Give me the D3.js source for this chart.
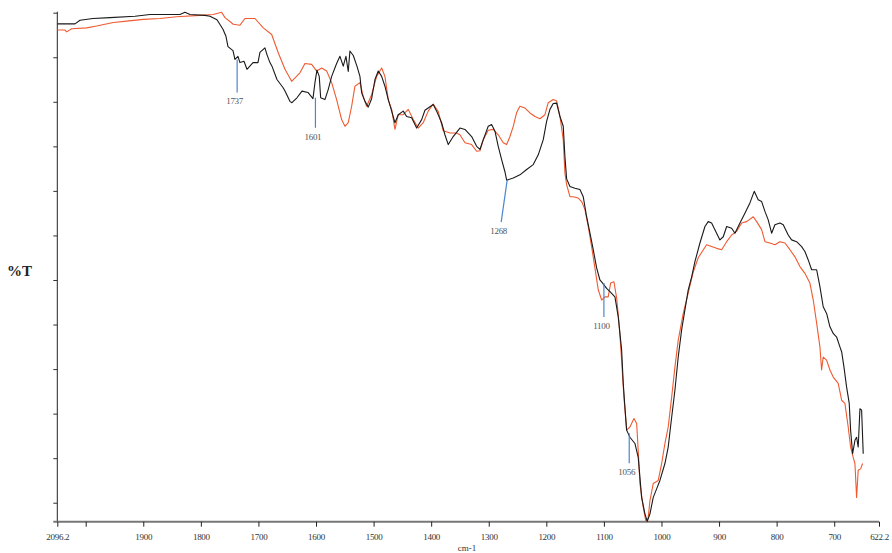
<!DOCTYPE html>
<html>
<head>
<meta charset="utf-8">
<script src="https://cdn.jsdelivr.net/npm/d3@7"></script>
<style>
  body { margin: 0; background: #fff; }
  svg { display: block; }
  text { font-family: "Liberation Serif", "Times New Roman", serif; }
</style>
</head>
<body>
<svg id="chart" width="892" height="553"></svg>
<script>
// spectrum data: [wavenumber cm-1, %T]
const blackSpectrum = [
  [2096.2,117.5],[2036.3,117.5],[2019.3,118.3],[1987.4,118.7],[1957.9,118.9],[1914.4,119.2],[1888.4,119.6],
  [1836.3,119.6],[1827.6,120.1],[1818.9,119.6],[1792.9,119.4],[1784.2,119.2],[1772.0,118.4],[1761.6,116.3],
  [1756.4,114.7],[1752.9,112.4],[1744.2,111.5],[1740.8,109.5],[1735.6,110.2],[1732.1,108.8],[1725.1,109.1],
  [1719.9,107.3],[1709.5,108.8],[1700.8,108.8],[1697.4,111.1],[1688.7,112.1],[1685.2,110.6],[1680.0,108.8],
  [1676.5,108.0],[1667.8,105.0],[1657.4,103.2],[1653.9,102.4],[1645.3,100.1],[1641.8,99.8],[1633.1,100.9],
  [1624.4,102.4],[1614.0,102.1],[1605.3,100.7],[1601.8,104.3],[1598.4,107.1],[1594.4,105.7],[1591.9,100.9],
  [1584.5,100.5],[1578.7,102.8],[1572.8,105.7],[1564.2,108.6],[1558.4,110.2],[1552.7,108.0],[1548.0,110.2],
  [1544.0,106.8],[1541.1,111.4],[1535.3,110.4],[1528.9,108.0],[1523.7,105.7],[1520.7,102.0],[1515.0,100.1],
  [1509.3,98.8],[1503.4,100.7],[1497.6,105.0],[1491.9,106.9],[1486.0,105.7],[1480.3,103.5],[1474.5,100.5],
  [1468.6,97.9],[1462.9,95.3],[1457.2,97.1],[1448.5,97.9],[1442.6,96.7],[1433.9,96.4],[1425.2,94.1],
  [1416.5,96.0],[1410.8,98.1],[1402.1,98.9],[1396.4,99.4],[1390.5,97.9],[1381.8,95.3],[1376.1,92.6],
  [1370.3,90.4],[1361.7,92.2],[1350.0,94.1],[1341.3,93.8],[1329.7,92.2],[1321.0,90.0],[1315.3,89.3],
  [1309.5,91.5],[1300.9,94.5],[1295.0,94.9],[1289.2,93.4],[1283.5,90.0],[1277.6,87.0],[1271.9,84.3],
  [1268.9,82.4],[1257.4,82.9],[1245.8,83.6],[1234.2,84.8],[1222.7,85.9],[1214.0,88.1],[1205.3,91.5],
  [1199.5,95.6],[1193.7,98.3],[1188.0,99.6],[1182.1,99.7],[1176.3,96.7],[1170.6,94.5],[1167.7,87.7],
  [1164.7,82.7],[1159.0,81.0],[1150.3,80.6],[1141.6,80.3],[1135.9,78.7],[1130.0,74.2],[1124.2,70.5],
  [1118.5,66.8],[1112.6,62.7],[1106.9,60.0],[1102.2,59.3],[1095.3,58.1],[1089.5,57.4],[1080.8,56.2],
  [1075.1,51.7],[1069.2,44.3],[1066.4,36.8],[1063.5,31.5],[1060.5,26.3],[1054.8,24.7],[1046.1,23.3],
  [1040.4,20.2],[1037.4,15.7],[1034.5,11.2],[1028.7,7.5],[1024.7,5.8],[1020.0,7.5],[1014.3,11.2],
  [1008.4,13.1],[1002.7,15.0],[994.0,18.8],[988.3,22.5],[982.3,29.2],[976.6,35.3],[970.9,42.7],
  [965.0,48.8],[959.3,53.3],[953.5,57.8],[947.6,60.7],[941.9,64.1],[933.2,68.3],[924.5,72.0],
  [918.8,73.1],[912.9,72.8],[907.2,71.3],[898.5,69.0],[892.7,69.7],[886.8,72.0],[878.1,71.6],
  [872.4,70.5],[863.7,72.8],[855.1,75.0],[846.4,77.3],[838.9,79.9],[832.0,78.0],[826.0,77.6],
  [820.3,75.4],[814.6,73.5],[808.7,70.5],[803.0,72.4],[794.3,72.8],[788.5,72.4],[779.9,70.1],
  [774.0,69.0],[765.3,68.6],[756.6,67.5],[750.9,66.4],[745.1,64.5],[739.2,62.3],[730.5,62.3],
  [724.8,58.5],[719.1,54.0],[713.2,52.5],[707.4,49.5],[701.7,48.0],[695.8,47.2],[690.1,45.0],
  [687.1,43.9],[683.1,40.5],[678.5,36.0],[673.9,32.3],[671.5,26.3],[668.0,21.0],[664.0,24.0],
  [661.1,24.7],[658.3,22.5],[655.3,31.1],[652.4,30.8],[649.6,21.0]
];

const orangeSpectrum = [
  [2096.2,116.1],[2070.1,116.1],[2064.4,115.7],[2047.5,116.4],[1998.3,116.6],[1981.0,117.0],[1952.1,117.8],
  [1928.9,118.1],[1900.0,118.5],[1871.0,118.7],[1842.0,119.1],[1801.6,119.4],[1778.5,119.6],[1763.9,120.1],
  [1758.1,118.9],[1743.7,117.4],[1732.1,117.2],[1723.4,118.7],[1706.0,118.7],[1691.6,116.6],[1677.0,115.1],
  [1665.6,111.0],[1653.9,107.3],[1642.3,104.6],[1627.9,106.5],[1619.2,108.6],[1607.6,108.4],[1598.9,106.9],
  [1590.2,107.6],[1581.5,106.9],[1572.8,104.3],[1564.2,100.5],[1555.5,96.0],[1549.7,94.5],[1544.0,95.3],
  [1538.1,99.0],[1532.4,103.5],[1523.7,104.3],[1518.0,101.2],[1512.1,99.0],[1503.4,101.6],[1494.7,105.7],
  [1486.0,107.6],[1480.3,105.7],[1474.5,100.5],[1468.6,98.3],[1462.9,93.8],[1457.2,97.1],[1448.5,97.1],
  [1439.8,98.3],[1431.1,96.0],[1422.4,94.1],[1413.8,95.3],[1405.1,97.9],[1396.4,99.5],[1387.7,97.8],
  [1379.0,93.5],[1367.4,93.0],[1355.8,93.0],[1350.0,92.6],[1341.3,90.8],[1329.7,90.4],[1321.0,88.9],
  [1315.3,89.0],[1309.5,91.5],[1300.9,93.6],[1292.2,93.8],[1283.5,92.6],[1274.8,90.8],[1268.9,90.4],
  [1263.2,92.2],[1257.4,94.5],[1251.5,97.6],[1245.8,99.0],[1237.1,98.6],[1228.4,97.5],[1219.8,96.7],
  [1211.1,96.2],[1202.4,97.1],[1196.7,99.8],[1188.0,100.5],[1182.1,100.2],[1176.3,96.7],[1170.6,91.5],
  [1167.7,84.0],[1164.7,81.4],[1159.0,78.7],[1153.2,78.7],[1144.6,78.4],[1138.7,77.6],[1132.9,75.8],
  [1127.2,72.0],[1121.3,67.5],[1115.6,62.7],[1109.8,57.8],[1103.9,55.5],[1098.2,56.2],[1092.5,56.2],
  [1088.3,59.3],[1082.6,59.6],[1077.9,56.0],[1073.4,49.9],[1069.2,42.0],[1065.2,33.7],[1060.5,26.3],
  [1054.8,27.0],[1047.8,28.9],[1043.1,27.8],[1040.4,21.8],[1037.4,14.3],[1031.7,9.0],[1027.0,5.8],
  [1023.0,6.7],[1020.0,10.5],[1014.3,14.3],[1005.6,15.0],[999.7,18.8],[994.0,23.3],[988.3,27.0],
  [982.3,33.7],[976.6,40.5],[970.9,46.5],[962.2,52.5],[953.5,57.1],[944.8,61.8],[936.2,65.0],
  [921.6,67.9],[912.9,67.5],[904.2,67.1],[895.5,66.8],[886.8,68.6],[878.1,70.1],[869.5,70.9],
  [860.8,72.8],[852.1,73.1],[840.6,74.2],[834.7,73.1],[826.0,71.3],[820.3,68.6],[811.6,68.3],
  [803.0,67.9],[794.3,68.6],[785.6,68.3],[776.9,66.8],[768.2,65.2],[759.5,63.0],[750.9,61.5],
  [742.2,59.3],[736.4,55.5],[730.5,50.3],[724.8,45.0],[721.9,39.8],[719.1,42.7],[713.2,42.0],
  [707.4,39.8],[701.7,38.2],[693.0,36.8],[687.1,33.0],[681.4,32.3],[675.7,27.0],[671.5,22.5],
  [667.0,20.2],[664.0,18.8],[661.1,11.2],[658.3,17.3],[654.1,17.6],[650.7,18.8]
];

// marked bands of the black trace and the %T where each marker starts
const peaks = [1737, 1601, 1268, 1100, 1056];
const peakT = [109.5, 100.9, 82.4, 59.3, 25.6];

const xTicks = [2096.2, 2000, 1900, 1800, 1700, 1600, 1500, 1400, 1300, 1200, 1100, 1000, 900, 800, 700, 622.2];
const yTicks = [10, 20, 30, 40, 50, 60, 70, 80, 90, 100, 110, 120];

let svg = d3.select('#chart');

let plot = { left: 57.3, right: 879, top: 12.7, bottom: 521.7 };

// the first 100 cm-1 of the scan are squeezed in the printout
let x = d3.scaleLinear()
  .domain([2096.2, 2000, 622.2])
  .range([plot.left, 85.7, plot.right]);

let y = d3.scaleLinear()
  .domain([5.74, 120])
  .range([plot.bottom, plot.top]);

// left axis, no labels
svg.append('g')
  .attr('transform', `translate(${plot.left},0)`)
  .call(d3.axisLeft(y).tickValues(yTicks).tickSize(4).tickSizeOuter(0).tickFormat(''))
  .call(g => g.select('.domain').attr('stroke', '#222').attr('d', `M0,${plot.top - 1}V${plot.bottom}`))
  .call(g => g.selectAll('.tick line').attr('stroke', '#333'));

// bottom axis
svg.append('g')
  .attr('transform', `translate(0,${plot.bottom})`)
  .call(d3.axisBottom(x)
    .tickValues(xTicks)
    .tickSize(5)
    .tickSizeOuter(0)
    .tickPadding(7)
    .tickFormat(d => d === 2000 ? '' : d))
  .call(g => g.select('.domain')
    .attr('stroke', '#777')
    .attr('stroke-width', 2)
    .attr('d', `M${plot.left - 4},0H${plot.right}`))
  .call(g => g.selectAll('.tick line').attr('stroke', '#222'))
  .call(g => g.selectAll('.tick text')
    .attr('fill', '#333')
    .style('font-family', '"Liberation Serif", serif')
    .style('font-size', '9px')
    .style('letter-spacing', '-0.3px'));

let line = d3.line()
  .x(d => x(d[0]))
  .y(d => y(d[1]));

svg.append('path')
  .datum(orangeSpectrum)
  .attr('fill', 'none')
  .attr('stroke', '#f05a30')
  .attr('stroke-width', 1.1)
  .attr('stroke-linejoin', 'round')
  .attr('d', line);

svg.append('path')
  .datum(blackSpectrum)
  .attr('fill', 'none')
  .attr('stroke', '#1a1a1a')
  .attr('stroke-width', 1.1)
  .attr('stroke-linejoin', 'round')
  .attr('d', line);

// peak markers: drop line length and sideways lean in px
let markerLen = [33, 30, 42, 34, 30];
let markerLean = [0, 0, -6, 0, 0];

let markers = svg.selectAll('.peak')
  .data(peaks)
  .enter()
  .append('g')
  .attr('class', 'peak');

markers.append('line')
  .attr('x1', d => x(d))
  .attr('y1', (d, i) => y(peakT[i]))
  .attr('x2', (d, i) => x(d) + markerLean[i])
  .attr('y2', (d, i) => y(peakT[i]) + markerLen[i])
  .attr('stroke', '#4a87cc')
  .attr('stroke-width', 1.2);

markers.append('text')
  .attr('x', (d, i) => x(d) + markerLean[i] - 2.5)
  .attr('y', (d, i) => y(peakT[i]) + markerLen[i] + 12)
  .attr('text-anchor', 'middle')
  .attr('fill', '#555')
  .style('font-size', '9px')
  .style('letter-spacing', '-0.3px')
  .text(d => d);

svg.append('text')
  .attr('x', 7)
  .attr('y', 276)
  .style('font-size', '15px')
  .style('font-weight', 'bold')
  .attr('fill', '#222')
  .text('%T');

svg.append('text')
  .attr('x', 467)
  .attr('y', 551)
  .attr('text-anchor', 'middle')
  .attr('fill', '#333')
  .style('font-size', '9px')
  .text('cm-1');
</script>
</body>
</html>
